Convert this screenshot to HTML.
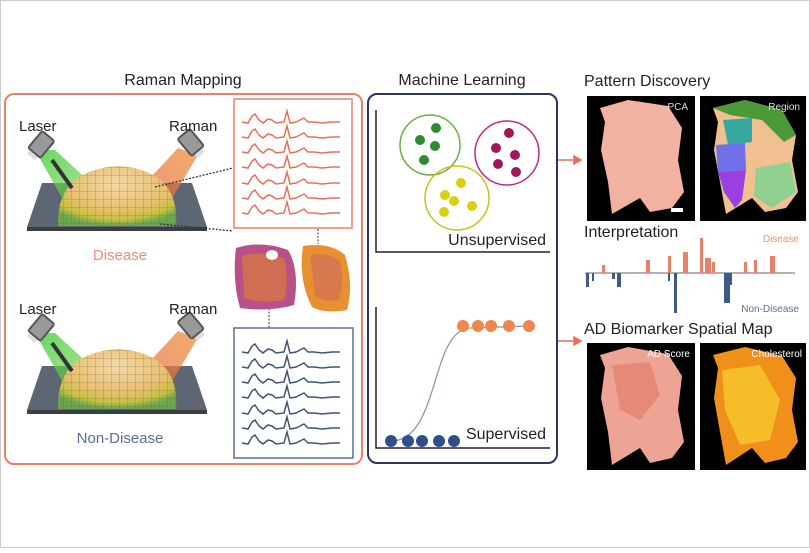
<!DOCTYPE html>
<html><head><meta charset="utf-8"><style>
html,body{margin:0;padding:0;background:#fff}
body{width:810px;height:548px;overflow:hidden;font-family:"Liberation Sans",sans-serif}
svg text{font-family:"Liberation Sans",sans-serif}
</style></head><body>
<svg width="810" height="548" viewBox="0 0 810 548" xmlns="http://www.w3.org/2000/svg">
<defs>
<radialGradient id="glow" cx="0.5" cy="0.3" r="0.7">
<stop offset="0" stop-color="#f5d9a8"/><stop offset="0.6" stop-color="#e8c070"/><stop offset="0.85" stop-color="#c8c040"/><stop offset="1" stop-color="#70c040" stop-opacity="0.7"/></radialGradient>
<linearGradient id="gbeam" x1="0" y1="0" x2="1" y2="1"><stop offset="0" stop-color="#4bd04b"/><stop offset="1" stop-color="#7ad040" stop-opacity="0.6"/></linearGradient>
<linearGradient id="obeam" x1="1" y1="0" x2="0" y2="1"><stop offset="0" stop-color="#f0a050"/><stop offset="1" stop-color="#e05030" stop-opacity="0.7"/></linearGradient>
<pattern id="grid" width="8" height="8" patternUnits="userSpaceOnUse"><path d="M8 0V8M0 8H8" stroke="#6a5a40" stroke-width="0.7" fill="none"/></pattern>
<g id="scope">
<polygon points="42,183 192,183 207,227 27,227" fill="#5d6774"/>
<rect x="27" y="227" width="180" height="4" fill="#3b3f45"/>
<polygon points="35,150 55,150 115,205 70,212" fill="url(#gbeam)" opacity="0.85"/>
<polygon points="178,148 198,155 165,210 125,205" fill="url(#obeam)" opacity="0.85"/>
<path d="M58,226 Q56,170 118,166 Q180,170 176,226 Z" fill="url(#glow)"/>
<path d="M58,226 Q56,170 118,166 Q180,170 176,226 Z" fill="url(#grid)" opacity="0.6"/>
<path d="M52,160 L72,188" stroke="#333" stroke-width="4"/>
<g transform="translate(40,146) rotate(40)"><rect x="-9" y="-14" width="18" height="24" rx="3" fill="#555"/><rect x="-7" y="-12" width="14" height="20" fill="#999"/><rect x="-5" y="10" width="10" height="4" fill="#ddd"/></g>
<g transform="translate(192,144) rotate(-40)"><rect x="-9" y="-14" width="18" height="24" rx="3" fill="#555"/><rect x="-7" y="-12" width="14" height="20" fill="#999"/><rect x="-5" y="10" width="10" height="4" fill="#ddd"/></g>
<text x="19" y="131" font-size="15" fill="#222">Laser</text>
<text x="169" y="131" font-size="15" fill="#222">Raman</text>
</g>
<path id="sp" d="M0,0 L6,1 L10,-6 L13,-8 L17,-2 L21,1 L26,-3 L30,-2 L34,1 L42,0 L45,-11 L48,1 L54,0 L58,-2 L62,-4 L66,0 L72,0 L80,1 L90,0 L98,0" fill="none" stroke-width="1.5"/>
</defs>
<rect x="0.5" y="0.5" width="809" height="547" fill="#fff" stroke="#ccc"/>

<!-- Raman Mapping -->
<text x="183" y="85" font-size="16" fill="#222" text-anchor="middle">Raman Mapping</text>
<rect x="5" y="94" width="357" height="370" rx="9" fill="none" stroke="#e8826a" stroke-width="2"/>
<use href="#scope"/>
<use href="#scope" transform="translate(0,183)"/>
<text x="120" y="260" font-size="15" fill="#ec8f78" text-anchor="middle">Disease</text>
<text x="120" y="443" font-size="15" fill="#5b7094" text-anchor="middle">Non-Disease</text>
<line x1="155" y1="187" x2="233" y2="168" stroke="#333" stroke-width="1.3" stroke-dasharray="2,1.5"/>
<line x1="160" y1="224" x2="233" y2="231" stroke="#333" stroke-width="1.3" stroke-dasharray="2,1.5"/>
<rect x="234" y="99" width="118" height="129" fill="#fff" stroke="#e8826a" stroke-width="1.5"/>
<g stroke="#e8705a">
<use href="#sp" x="242" y="122"/><use href="#sp" x="242" y="137"/><use href="#sp" x="242" y="152"/><use href="#sp" x="242" y="167"/><use href="#sp" x="242" y="183"/><use href="#sp" x="242" y="198"/><use href="#sp" x="242" y="213"/>
</g>
<line x1="318" y1="229" x2="318" y2="244" stroke="#333" stroke-dasharray="2,1.5"/>
<line x1="269" y1="308" x2="269" y2="328" stroke="#333" stroke-dasharray="2,1.5"/>
<path d="M236,248 Q262,240 288,250 Q300,270 294,305 Q270,312 240,308 Q232,280 236,248 Z" fill="#b8508a"/>
<path d="M242,256 Q262,250 284,258 Q290,280 284,300 Q260,304 244,298 Z" fill="#d97a3a" opacity="0.7"/>
<ellipse cx="272" cy="255" rx="6" ry="5" fill="#fff"/>
<path d="M303,246 Q330,242 345,255 Q354,285 347,310 Q325,314 312,307 Q298,280 303,246 Z" fill="#e89030"/>
<path d="M310,255 Q330,252 340,262 Q345,285 338,300 Q322,303 315,295 Z" fill="#c06070" opacity="0.45"/>
<rect x="234" y="328" width="119" height="130" fill="#fff" stroke="#5b7094" stroke-width="1.5"/>
<g stroke="#3f5578">
<use href="#sp" x="242" y="352"/><use href="#sp" x="242" y="367"/><use href="#sp" x="242" y="382"/><use href="#sp" x="242" y="397"/><use href="#sp" x="242" y="413"/><use href="#sp" x="242" y="428"/><use href="#sp" x="242" y="443"/>
</g>

<!-- Machine Learning -->
<text x="462" y="85" font-size="16" fill="#222" text-anchor="middle">Machine Learning</text>
<rect x="368" y="94" width="189" height="369" rx="9" fill="none" stroke="#2a3560" stroke-width="2"/>
<path d="M376,110 V252 H550" fill="none" stroke="#222" stroke-width="1.5"/>
<path d="M376,307 V448 H550" fill="none" stroke="#222" stroke-width="1.5"/>
<circle cx="430" cy="145" r="30" fill="none" stroke="#6ab04a" stroke-width="1.5"/>
<circle cx="507" cy="153" r="32" fill="none" stroke="#c0288a" stroke-width="1.5"/>
<circle cx="457" cy="198" r="32" fill="none" stroke="#c8c020" stroke-width="1.5"/>
<g fill="#2e8a2e"><circle cx="436" cy="128" r="5"/><circle cx="420" cy="140" r="5"/><circle cx="435" cy="146" r="5"/><circle cx="424" cy="160" r="5"/></g>
<g fill="#a0185a"><circle cx="509" cy="133" r="5"/><circle cx="496" cy="148" r="5"/><circle cx="515" cy="155" r="5"/><circle cx="498" cy="164" r="5"/><circle cx="516" cy="172" r="5"/></g>
<g fill="#d8d010"><circle cx="461" cy="183" r="5"/><circle cx="445" cy="195" r="5"/><circle cx="454" cy="201" r="5"/><circle cx="472" cy="206" r="5"/><circle cx="444" cy="212" r="5"/></g>
<text x="546" y="245" font-size="16" fill="#222" text-anchor="end">Unsupervised</text>
<path d="M391,441 C440,441 430,330 470,328 L530,326" fill="none" stroke="#8898b8" stroke-width="1.3"/>
<g fill="#f0884e"><circle cx="463" cy="326" r="6"/><circle cx="478" cy="326" r="6"/><circle cx="491" cy="326" r="6"/><circle cx="509" cy="326" r="6"/><circle cx="529" cy="326" r="6"/></g>
<g fill="#2f4f8a"><circle cx="391" cy="441" r="6"/><circle cx="408" cy="441" r="6"/><circle cx="422" cy="441" r="6"/><circle cx="439" cy="441" r="6"/><circle cx="454" cy="441" r="6"/></g>
<text x="546" y="439" font-size="16" fill="#222" text-anchor="end">Supervised</text>

<!-- arrows -->
<g stroke="#e8705a" stroke-width="1.5" fill="#e8705a">
<line x1="558" y1="160" x2="574" y2="160"/><polygon points="574,156 581,160 574,164"/>
<line x1="558" y1="341" x2="574" y2="341"/><polygon points="574,337 581,341 574,345"/>
</g>

<!-- Right column -->
<text x="584" y="86" font-size="16" fill="#222">Pattern Discovery</text>
<rect x="587" y="96" width="108" height="125" fill="#000"/>
<path d="M600,108 L628,100 L668,106 L682,128 L678,160 L684,192 L672,208 L650,212 L640,198 L612,214 L608,182 L601,150 L605,122 Z" fill="#f2b2a2"/>
<text x="688" y="110" font-size="10" fill="#ddd" text-anchor="end">PCA</text>
<rect x="671" y="208" width="12" height="4" fill="#fff"/>
<rect x="700" y="96" width="106" height="125" fill="#000"/>
<path d="M713,108 L745,100 L782,110 L796,135 L792,160 L798,192 L786,208 L765,212 L752,198 L726,214 L720,182 L714,150 L718,122 Z" fill="#f0c090"/>
<path d="M713,108 L745,100 L782,110 L796,135 L784,142 L762,120 L730,115 Z" fill="#4a9a3a"/>
<path d="M723,120 L752,118 L752,142 L728,145 Z" fill="#35a8a0"/>
<path d="M716,145 L745,143 L746,170 L718,172 Z" fill="#7070e8"/>
<path d="M718,172 L746,170 L742,200 L735,208 L724,192 Z" fill="#9a40e0"/>
<path d="M756,168 L790,162 L796,192 L772,208 L754,196 Z" fill="#90d090"/>
<text x="800" y="110" font-size="10" fill="#ddd" text-anchor="end">Region</text>

<text x="584" y="237" font-size="16" fill="#222">Interpretation</text>
<text x="799" y="242" font-size="10" fill="#ec8f78" text-anchor="end">Disease</text>
<line x1="585" y1="273" x2="795" y2="273" stroke="#333" stroke-width="0.8"/>
<g fill="#e8806a">
<rect x="602" y="265" width="3" height="8"/><rect x="646" y="260" width="4" height="13"/><rect x="668" y="256" width="3" height="17"/><rect x="683" y="252" width="5" height="21"/><rect x="700" y="238" width="3" height="35"/><rect x="705" y="258" width="6" height="15"/><rect x="712" y="262" width="3" height="11"/><rect x="744" y="262" width="3" height="11"/><rect x="754" y="260" width="3" height="13"/><rect x="770" y="256" width="5" height="17"/>
</g>
<g fill="#3f5a88">
<rect x="586" y="273" width="3" height="14"/><rect x="592" y="273" width="2" height="8"/><rect x="612" y="273" width="3" height="6"/><rect x="617" y="273" width="4" height="14"/><rect x="668" y="273" width="2" height="8"/><rect x="674" y="273" width="3" height="40"/><rect x="724" y="273" width="6" height="30"/><rect x="730" y="273" width="2" height="12"/>
</g>
<text x="799" y="312" font-size="10" fill="#5b7094" text-anchor="end">Non-Disease</text>

<text x="584" y="334" font-size="16" fill="#222">AD Biomarker Spatial Map</text>
<rect x="587" y="343" width="108" height="127" fill="#000"/>
<path d="M600,355 L628,347 L668,354 L682,376 L678,410 L684,442 L672,458 L650,463 L640,448 L612,465 L608,432 L601,398 L605,368 Z" fill="#eea494"/>
<path d="M612,365 L650,362 L660,395 L640,420 L620,410 Z" fill="#e07a68" opacity="0.6"/>
<text x="690" y="357" font-size="10" fill="#fff" text-anchor="end">AD Score</text>
<rect x="700" y="343" width="106" height="127" fill="#000"/>
<path d="M713,355 L745,347 L782,356 L796,378 L792,410 L798,442 L786,458 L765,463 L752,448 L726,465 L720,432 L714,398 L718,368 Z" fill="#f0901a"/>
<path d="M722,370 L760,365 L780,400 L770,440 L740,445 L725,410 Z" fill="#f8d030" opacity="0.7"/>
<text x="802" y="357" font-size="10" fill="#fff" text-anchor="end">Cholesterol</text>
</svg>
</body></html>
